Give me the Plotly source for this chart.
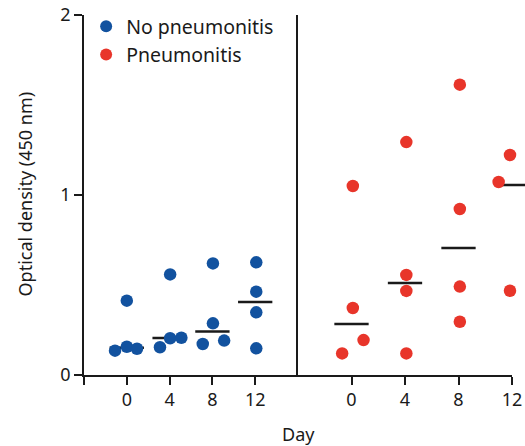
import plotly.graph_objects as go

# ---- data ----
days = [0, 4, 8, 12]

# No pneumonitis (left panel)
no_x = [-1.1, 0.0, 0.95, 0.0,   3.1, 4.05, 5.1, 4.05,   7.1, 8.05, 8.05, 9.1,   12.1, 12.1, 12.1, 12.1]
no_y = [0.135, 0.157, 0.146, 0.413,   0.154, 0.204, 0.207, 0.559,   0.172, 0.62, 0.287, 0.191,   0.626, 0.463, 0.348, 0.148]
no_median = [0.152, 0.205, 0.241, 0.406]

# Pneumonitis (right panel)
pn_x = [0.1, 0.1, 0.9, -0.7,   4.1, 4.1, 4.1, 4.1,   8.1, 8.1, 8.1, 8.1,   11.85, 11.0, 12.6, 11.85]
pn_y = [1.05, 0.372, 0.194, 0.12,   0.556, 0.467, 0.12, 1.294,   0.922, 0.491, 0.296, 1.613,   1.222, 1.072, 1.037, 0.468]
pn_median = [0.283, 0.511, 0.706, 1.055]

BLUE = "#12529f"
RED = "#e8352a"
INK = "#1a1a1a"
FONT = "Noto Sans"

fig = go.Figure()

fig.add_trace(go.Scatter(
    x=days, y=no_median, xaxis="x", yaxis="y", mode="markers",
    marker=dict(symbol="line-ew", size=24.5, line=dict(color=INK, width=2.5)),
    showlegend=False, hoverinfo="skip", cliponaxis=False))
fig.add_trace(go.Scatter(
    x=no_x, y=no_y, xaxis="x", yaxis="y", mode="markers", name="No pneumonitis",
    marker=dict(color=BLUE, size=12.5), cliponaxis=False))

fig.add_trace(go.Scatter(
    x=days, y=pn_median, xaxis="x2", yaxis="y2", mode="markers",
    marker=dict(symbol="line-ew", size=24.5, line=dict(color=INK, width=2.5)),
    showlegend=False, hoverinfo="skip", cliponaxis=False))
fig.add_trace(go.Scatter(
    x=pn_x, y=pn_y, xaxis="x2", yaxis="y2", mode="markers", name="Pneumonitis",
    marker=dict(color=RED, size=12.5), cliponaxis=False))

axis_common = dict(showline=True, linecolor=INK, linewidth=1.6, showgrid=False,
                   zeroline=False, ticks="outside", ticklen=8, tickwidth=1.6,
                   tickcolor=INK, automargin=False,
                   tickfont=dict(family=FONT, size=18, color=INK))

fig.update_layout(
    width=525, height=446,
    margin=dict(l=84, r=13, t=15, b=71, autoexpand=False),
    paper_bgcolor="white", plot_bgcolor="white",
    font=dict(family=FONT, size=18, color=INK),
    showlegend=True,
    legend=dict(x=0.005, y=1.022, xanchor="left", yanchor="top",
                font=dict(family=FONT, size=19.5, color=INK),
                bgcolor="rgba(0,0,0,0)", itemsizing="constant"),
    xaxis=dict(domain=[0, 0.5], range=[-4, 16], tickvals=[-4, 0, 4, 8, 12],
               ticktext=["", "0", "4", "8", "12"], anchor="y", **axis_common),
    xaxis2=dict(domain=[0.5, 1], range=[-4, 12], tickvals=[0, 4, 8, 12],
                ticktext=["0", "4", "8", "12"], anchor="y2", **axis_common),
    yaxis=dict(domain=[0, 1], range=[0, 2], tickvals=[0, 1, 2],
               ticktext=["0", "1", "2"], anchor="x", **axis_common),
    yaxis2=dict(domain=[0, 1], range=[0, 2], anchor="x2", showline=True,
                linecolor=INK, linewidth=1.6, showgrid=False, zeroline=False,
                showticklabels=False, ticks="", automargin=False),
    annotations=[
        dict(text="Day", xref="paper", yref="paper", x=0.5, y=-0.164,
             xanchor="center", yanchor="middle", showarrow=False,
             font=dict(family=FONT, size=18, color=INK)),
        dict(text="Optical density (450 nm)", xref="paper", yref="paper",
             x=-0.138, y=0.504, xanchor="center", yanchor="middle",
             textangle=-90, showarrow=False,
             font=dict(family=FONT, size=18, color=INK)),
    ],
)

fig.write_html("out.html", config={"displayModeBar": False},
               post_script="document.body.style.margin='0px';document.body.style.padding='0px';")
